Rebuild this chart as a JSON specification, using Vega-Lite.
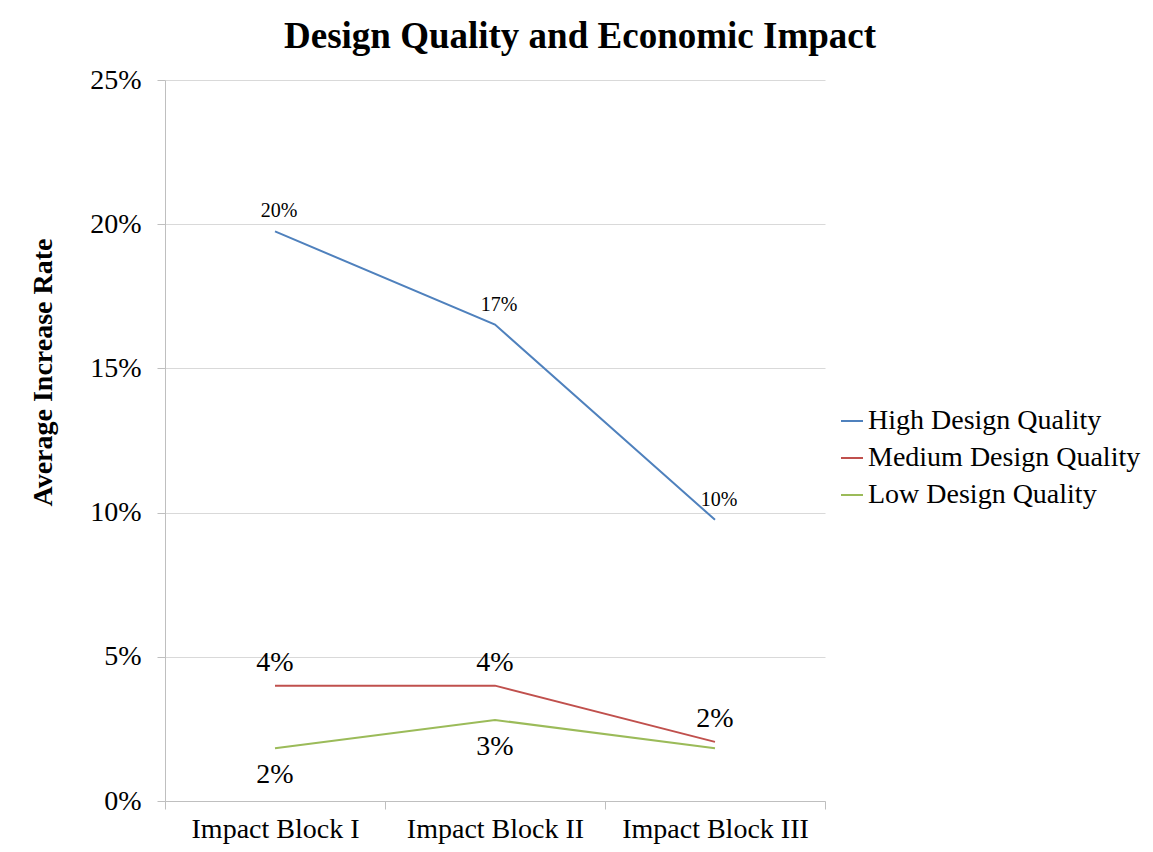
{
  "$schema": "https://vega.github.io/schema/vega-lite/v6.json",
  "autosize": "none",
  "width": 660,
  "height": 721,
  "padding": {"left": 165, "top": 80, "right": 328, "bottom": 51},
  "background": "white",
  "title": {
    "text": "Design Quality and Economic Impact",
    "font": "Liberation Serif",
    "fontSize": 37,
    "fontWeight": "bold",
    "color": "black",
    "anchor": "middle",
    "dx": 85,
    "offset": 10
  },
  "config": {
    "font": "Liberation Serif",
    "view": {"stroke": null},
    "axis": {
      "labelFont": "Liberation Serif",
      "labelFontSize": 28,
      "labelColor": "black",
      "labelLimit": 0,
      "gridColor": "#d9d9d9",
      "domainColor": "#bfbfbf",
      "tickColor": "#bfbfbf",
      "tickSize": 8
    }
  },
  "data": {
    "values": [
      {"block": "Impact Block I", "series": "High Design Quality", "rate": 0.1975},
      {"block": "Impact Block II", "series": "High Design Quality", "rate": 0.1652},
      {"block": "Impact Block III", "series": "High Design Quality", "rate": 0.0975},
      {"block": "Impact Block I", "series": "Medium Design Quality", "rate": 0.04},
      {"block": "Impact Block II", "series": "Medium Design Quality", "rate": 0.04},
      {"block": "Impact Block III", "series": "Medium Design Quality", "rate": 0.0205},
      {"block": "Impact Block I", "series": "Low Design Quality", "rate": 0.0183},
      {"block": "Impact Block II", "series": "Low Design Quality", "rate": 0.0281},
      {"block": "Impact Block III", "series": "Low Design Quality", "rate": 0.0183}
    ]
  },
  "encoding": {
    "x": {
      "field": "block",
      "type": "nominal",
      "sort": ["Impact Block I", "Impact Block II", "Impact Block III"],
      "scale": {"type": "band", "paddingInner": 0, "paddingOuter": 0},
      "axis": {
        "title": null,
        "labelAngle": 0,
        "labelFontSize": 28,
        "labelLimit": 0,
        "tickBand": "extent",
        "grid": false,
        "labelPadding": 6
      }
    },
    "y": {
      "field": "rate",
      "type": "quantitative",
      "scale": {"domain": [0, 0.25], "nice": false},
      "axis": {
        "values": [0, 0.05, 0.1, 0.15, 0.2, 0.25],
        "format": ".0%",
        "labelFontSize": 28,
        "title": "Average Increase Rate",
        "titleFont": "Liberation Serif",
        "titleFontSize": 28,
        "titleFontWeight": "bold",
        "titleColor": "black",
        "titleX": -122,
        "titleY": 292,
        "titleAlign": "center",
        "titleBaseline": "middle",
        "labelPadding": 16
      }
    }
  },
  "layer": [
    {
      "mark": {"type": "line", "strokeWidth": 2},
      "encoding": {
        "color": {
          "field": "series",
          "type": "nominal",
          "scale": {
            "domain": ["High Design Quality", "Medium Design Quality", "Low Design Quality"],
            "range": ["#4f81bd", "#c0504d", "#9bbb59"]
          },
          "legend": {
            "title": null,
            "orient": "none",
            "legendX": 673,
            "legendY": 327,
            "symbolType": "stroke",
            "symbolSize": 484,
            "symbolStrokeWidth": 2,
            "labelFont": "Liberation Serif",
            "labelFontSize": 28,
            "labelLimit": 0,
            "labelColor": "black",
            "labelOffset": 2,
            "rowPadding": 9
          }
        }
      }
    },
    {
      "transform": [{"filter": "datum.series === 'High Design Quality'"}],
      "mark": {"type": "text", "font": "Liberation Serif", "fontSize": 20, "dy": -20, "dx": 4, "color": "black"},
      "encoding": {"text": {"field": "rate", "type": "quantitative", "format": ".0%"}}
    },
    {
      "transform": [{"filter": "datum.series === 'Medium Design Quality'"}],
      "mark": {"type": "text", "font": "Liberation Serif", "fontSize": 28, "dy": -23, "color": "black"},
      "encoding": {"text": {"field": "rate", "type": "quantitative", "format": ".0%"}}
    },
    {
      "transform": [{"filter": "datum.series === 'Low Design Quality' && datum.block !== 'Impact Block III'"}],
      "mark": {"type": "text", "font": "Liberation Serif", "fontSize": 28, "dy": 27, "color": "black"},
      "encoding": {"text": {"field": "rate", "type": "quantitative", "format": ".0%"}}
    }
  ]
}
